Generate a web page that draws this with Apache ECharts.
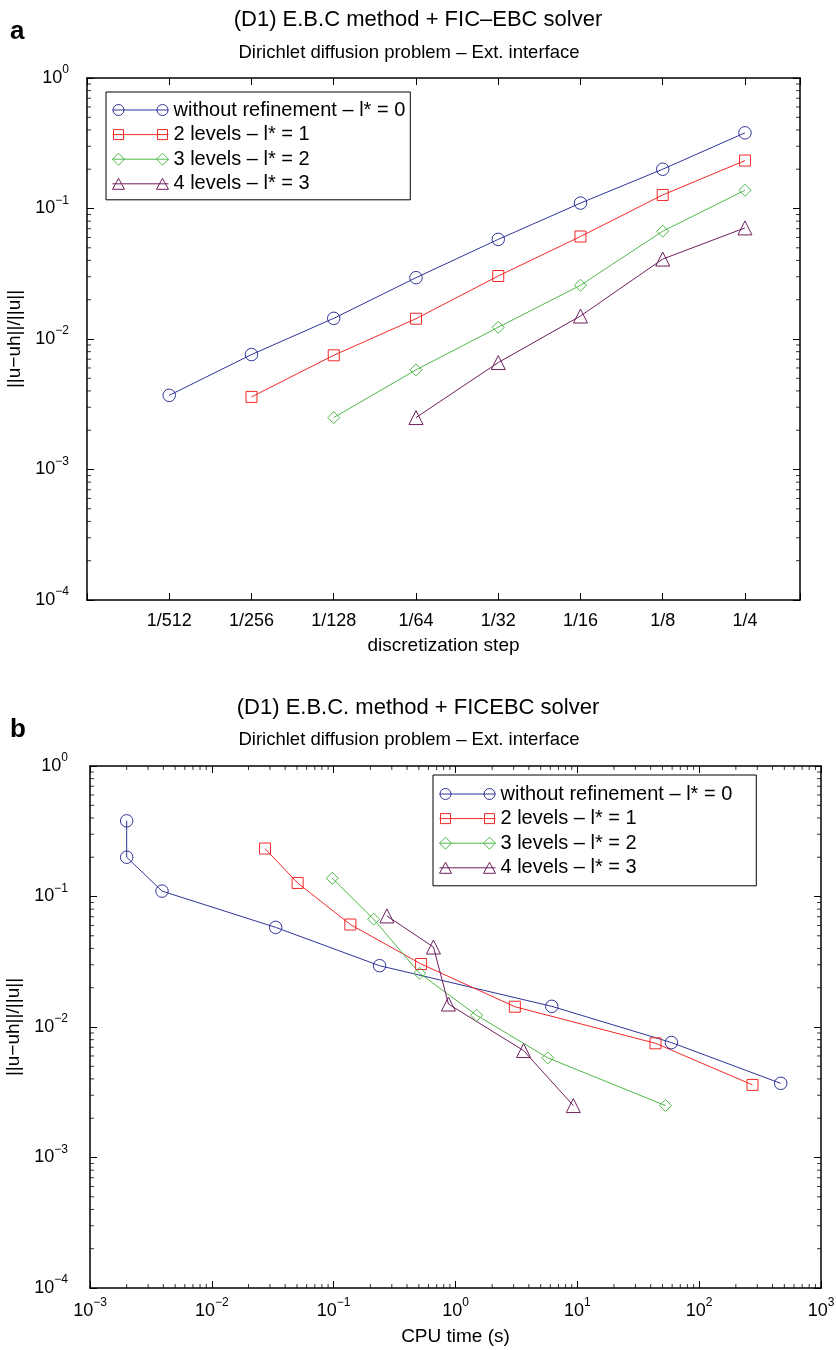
<!DOCTYPE html>
<html><head><meta charset="utf-8">
<script src="https://cdn.jsdelivr.net/npm/echarts@6/dist/echarts.min.js"></script>
<style>html,body{margin:0;padding:0;background:#fff}#c{width:836px;height:1350px}</style>
</head><body><div id="c"></div>
<script>
// ---------------- data ----------------
const stepDenominators = [512, 256, 128, 64, 32, 16, 8, 4];
const seriesNames = ['without refinement – l* = 0', '2 levels – l* = 1', '3 levels – l* = 2', '4 levels – l* = 3'];
// relative error, ordered from the finest available step up to h = 1/4
const errL0 = [0.0037, 0.0076, 0.0144, 0.0295, 0.058, 0.11, 0.2, 0.38];   // h = 1/512 .. 1/4
const errL1 = [0.0036, 0.0075, 0.0143, 0.0304, 0.061, 0.127, 0.233];      // h = 1/256 .. 1/4
const errL2 = [0.0025, 0.0058, 0.0123, 0.0258, 0.067, 0.138];             // h = 1/128 .. 1/4
const errL3 = [0.0025, 0.0066, 0.015, 0.041, 0.071];                      // h = 1/64 .. 1/4
// CPU time (s), same ordering
const cpuL0 = [467, 59.2, 6.17, 0.238, 0.0334, 0.0039, 0.002, 0.002];
const cpuL1 = [274, 43.8, 3.07, 0.522, 0.137, 0.0506, 0.0273];
const cpuL2 = [52.9, 5.72, 1.49, 0.507, 0.213, 0.0975];
const cpuL3 = [9.27, 3.62, 0.875, 0.659, 0.2735];

const errs = [errL0, errL1, errL2, errL3];
const cpus = [cpuL0, cpuL1, cpuL2, cpuL3];

// ---------------- styles ----------------
const FONT = '"Liberation Sans", Arial, Helvetica, sans-serif';
const colors = ['#2f3597', '#f02828', '#4fb84a', '#6e1f5c'];
const symbols = ['circle', 'rect', 'diamond', 'triangle'];
const symbolSizes = [12.5, 11, 12, 14];
const legendIcons = [
  'path://M0,6L56,6M0.5,6A5.5,5.5,0,1,0,11.5,6A5.5,5.5,0,1,0,0.5,6ZM44.5,6A5.5,5.5,0,1,0,55.5,6A5.5,5.5,0,1,0,44.5,6Z',
  'path://M0,6L56,6M1,1L11,1L11,11L1,11ZM45,1L55,1L55,11L45,11Z',
  'path://M0,6L56,6M0,6L6,0L12,6L6,12ZM44,6L50,0L56,6L50,12Z',
  'path://M0,6L56,6M0,11.5L6,0.5L12,11.5ZM44,11.5L50,0.5L56,11.5Z'
];

function powLabel(v) {
  const e = Math.round(Math.log10(v));
  return '{b|10}{s|' + (e < 0 ? '\u2212' + (-e) : e) + '}';
}
const supRich = {
  b: { fontSize: 18, fontFamily: FONT, color: '#000', lineHeight: 28 },
  s: { fontSize: 12, fontFamily: FONT, color: '#000', verticalAlign: 'top', lineHeight: 13 }
};

function minorValues(exps) {
  const out = [];
  exps.forEach(function (e) { for (let k = 2; k <= 9; k++) out.push(k * Math.pow(10, e)); });
  return out;
}

const axisLine = { show: true, onZero: false, lineStyle: { color: '#000', width: 1.5 } };
const majorTick = { show: true, inside: true, length: 7, lineStyle: { color: '#000', width: 1 } };
const nameStyle = { fontSize: 19, fontFamily: FONT, color: '#000' };

function logY(gridIndex, pos, withLabel, margin, gap) {
  return {
    type: 'log', gridIndex: gridIndex, position: pos, min: 1e-4, max: 1, logBase: 10,
    axisLine: axisLine, axisTick: majorTick, splitLine: { show: false },
    axisLabel: withLabel ? { show: true, margin: margin, formatter: powLabel, rich: supRich } : { show: false },
    name: withLabel ? '||u\u2212uh||/||u||' : '',
    nameLocation: 'middle', nameGap: gap, nameRotate: 90, nameTextStyle: nameStyle
  };
}

const stepXMin = -10, stepXMax = -1.331;
function stepX(pos, withLabel) {
  return {
    type: 'value', gridIndex: 0, position: pos, min: stepXMin, max: stepXMax, interval: 1,
    axisLine: axisLine, axisTick: majorTick, splitLine: { show: false },
    axisLabel: withLabel ? {
      show: true, margin: 12, fontSize: 18, fontFamily: FONT, color: '#000',
      formatter: function (v) {
        if (Math.abs(v - Math.round(v)) > 1e-6 || v < -9.5 || v > -1.5) return '';
        return '1/' + Math.round(Math.pow(2, -v));
      }
    } : { show: false },
    name: withLabel ? 'discretization step' : '', nameLocation: 'middle', nameGap: 36, nameTextStyle: nameStyle
  };
}

function cpuX(pos, withLabel) {
  return {
    type: 'log', gridIndex: 1, position: pos, min: 1e-3, max: 1e3, logBase: 10,
    axisLine: axisLine, axisTick: majorTick, splitLine: { show: false },
    axisLabel: withLabel ? { show: true, margin: 9, formatter: powLabel, rich: supRich } : { show: false },
    name: withLabel ? 'CPU time (s)' : '', nameLocation: 'middle', nameGap: 39, nameTextStyle: nameStyle
  };
}

// ---------------- series ----------------
const series = [];
for (let i = 0; i < 4; i++) {
  const n = errs[i].length;
  const dens = stepDenominators.slice(stepDenominators.length - n);
  const common = {
    type: 'line', name: seriesNames[i], symbol: symbols[i], symbolSize: symbolSizes[i],
    showAllSymbol: true, clip: false, z: 3,
    lineStyle: { color: colors[i], width: 1 },
    itemStyle: { color: 'rgba(0,0,0,0)', borderColor: colors[i], borderWidth: 1 },
    emphasis: { disabled: true }
  };
  series.push(Object.assign({}, common, {
    xAxisIndex: 0, yAxisIndex: 0,
    data: dens.map(function (d, k) { return [-Math.log2(d), errs[i][k]]; })
  }));
  series.push(Object.assign({}, common, {
    xAxisIndex: 2, yAxisIndex: 2,
    data: cpus[i].map(function (c, k) { return [c, errs[i][k]]; })
  }));
}

// minor ticks (2..9 x 10^k) drawn as tiny marks through the axis scales
const yMinor = minorValues([-4, -3, -2, -1]);
const xMinor = minorValues([-3, -2, -1, 0, 1, 2]);
function tickSeries(xi, yi, pts, size, offset) {
  return { type: 'scatter', xAxisIndex: xi, yAxisIndex: yi, silent: true, clip: false, z: 2,
    symbol: 'rect', symbolSize: size, symbolOffset: offset,
    itemStyle: { color: '#000', borderWidth: 0 }, emphasis: { disabled: true }, data: pts };
}
series.push(tickSeries(0, 0, yMinor.map(function (v) { return [stepXMin, v]; }), [4, 1], [2, 0]));
series.push(tickSeries(0, 0, yMinor.map(function (v) { return [stepXMax, v]; }), [4, 1], [-2, 0]));
series.push(tickSeries(2, 2, yMinor.map(function (v) { return [1e-3, v]; }), [4, 1], [2, 0]));
series.push(tickSeries(2, 2, yMinor.map(function (v) { return [1e3, v]; }), [4, 1], [-2, 0]));
series.push(tickSeries(2, 2, xMinor.map(function (v) { return [v, 1e-4]; }), [1, 4], [0, -2]));
series.push(tickSeries(2, 2, xMinor.map(function (v) { return [v, 1]; }), [1, 4], [0, 2]));

function legendCfg(left, top, padding) {
  return {
    orient: 'vertical', left: left, top: top, padding: padding, itemGap: 4.6,
    itemWidth: 56, itemHeight: 12, selectedMode: false,
    borderColor: '#000', borderWidth: 1, backgroundColor: '#fff',
    textStyle: { fontSize: 20, fontFamily: FONT, color: '#000', lineHeight: 20 },
    data: seriesNames.map(function (n, i) {
      return { name: n, icon: legendIcons[i], itemStyle: { color: 'rgba(0,0,0,0)', borderColor: colors[i], borderWidth: 1 } };
    })
  };
}

function txt(x, y, text, size, weight) {
  return { type: 'text', x: x, y: y, silent: true,
    style: { text: text, fontSize: size, fontWeight: weight || 'normal', fontFamily: FONT, fill: '#000', align: weight ? 'left' : 'center', verticalAlign: 'middle' } };
}

const option = {
  animation: false,
  backgroundColor: '#fff',
  grid: [
    { left: 87, top: 78, width: 713, height: 522, containLabel: false, outerBoundsMode: 'none' },
    { left: 90, top: 766, width: 731, height: 522, containLabel: false, outerBoundsMode: 'none' }
  ],
  xAxis: [stepX('bottom', true), stepX('top', false), cpuX('bottom', true), cpuX('top', false)],
  yAxis: [logY(0, 'left', true, 18, 61), logY(0, 'right', false), logY(1, 'left', true, 22, 64), logY(1, 'right', false)],
  legend: [legendCfg(106, 92, [8, 5, 6, 6]), legendCfg(433, 775, [9, 24, 8, 6])],
  graphic: [
    txt(10, 32, 'a', 26, 'bold'),
    txt(418, 20, '(D1) E.B.C method + FIC\u2013EBC solver', 22),
    txt(409, 53, 'Dirichlet diffusion problem \u2013 Ext. interface', 18.5),
    txt(10, 730, 'b', 26, 'bold'),
    txt(418, 708, '(D1) E.B.C. method + FICEBC solver', 22),
    txt(409, 740, 'Dirichlet diffusion problem \u2013 Ext. interface', 18.5)
  ],
  series: series
};
const chart = echarts.init(document.getElementById('c'), null, { renderer: 'canvas' });
chart.setOption(option);
</script></body></html>
